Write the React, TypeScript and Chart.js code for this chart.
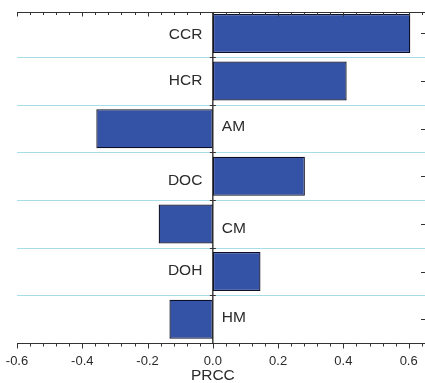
import React, { useEffect, useRef } from "react";
import { Chart, registerables } from "chart.js";

Chart.register(...registerables);

const categories = ["CCR", "HCR", "AM", "DOC", "CM", "DOH", "HM"];
const prccValues = [0.605, 0.41, -0.357, 0.282, -0.166, 0.146, -0.133];
const xTickValues = [-0.6, -0.4, -0.2, 0.0, 0.2, 0.4, 0.6];
const xTickLabels = ["-0.6", "-0.4", "-0.2", "0.0", "0.2", "0.4", "0.6"];
const xMin = -0.6;
const xMax = 0.65;
const minorStep = 0.04;
const axisTitle = "PRCC";

const labelDy = [1.5, 0, -2, 4, 5, -1, -1];

const FONT = "'Liberation Sans', Arial, sans-serif";
const TEXT = "#2b2b2b";
const AXIS = "#333333";
const GRID = "#a6dde6";

const overlayPlugin = {
  id: "overlay",
  beforeDatasetsDraw(chart: any) {
    const { ctx, chartArea } = chart;
    const ys = chart.scales.y;
    ctx.save();
    ctx.strokeStyle = GRID;
    ctx.lineWidth = 1;
    ctx.beginPath();
    for (let i = 1; i < categories.length; i++) {
      const yb = Math.round((ys.getPixelForValue(i - 1) + ys.getPixelForValue(i)) / 2) + 0.5;
      ctx.moveTo(chartArea.left, yb);
      ctx.lineTo(chart.width, yb);
    }
    ctx.stroke();
    ctx.restore();
  },
  afterDatasetsDraw(chart: any) {
    const { ctx, chartArea } = chart;
    const xs = chart.scales.x;
    const ys = chart.scales.y;
    const x0 = xs.getPixelForValue(0);
    const left = chartArea.left;
    const right = chart.width;
    const topY = 12.5;
    const botY = Math.round(chartArea.bottom) + 0.5;
    ctx.save();
    ctx.strokeStyle = AXIS;
    ctx.lineWidth = 1;
    ctx.beginPath();
    ctx.moveTo(left, topY);
    ctx.lineTo(right, topY);
    ctx.moveTo(left, botY);
    ctx.lineTo(right, botY);
    ctx.stroke();
    const nMinor = Math.round((xMax - xMin) / minorStep);
    ctx.beginPath();
    for (let i = 0; i <= nMinor; i++) {
      const v = xMin + i * minorStep;
      const px = Math.round(xs.getPixelForValue(v)) + 0.5;
      const isMajor = xTickValues.some((t) => Math.abs(t - v) < 1e-6);
      const lenTop = isMajor ? 4 : 2.5;
      const lenBot = isMajor ? 5 : 3;
      ctx.moveTo(px, topY);
      ctx.lineTo(px, topY + lenTop);
      ctx.moveTo(px, botY);
      ctx.lineTo(px, botY + lenBot);
    }
    ctx.stroke();
    ctx.strokeStyle = "#222222";
    ctx.lineWidth = 1.3;
    ctx.beginPath();
    ctx.moveTo(x0, topY);
    ctx.lineTo(x0, botY);
    ctx.stroke();
    ctx.lineWidth = 1;
    ctx.strokeStyle = AXIS;
    ctx.beginPath();
    for (let i = 1; i < categories.length; i++) {
      const yb = Math.round((ys.getPixelForValue(i - 1) + ys.getPixelForValue(i)) / 2) + 0.5;
      ctx.moveTo(x0 - 3, yb);
      ctx.lineTo(x0 + 3, yb);
    }
    for (let i = 0; i < categories.length; i++) {
      const yc = Math.round(ys.getPixelForValue(i)) + 0.5;
      ctx.moveTo(right - 4, yc);
      ctx.lineTo(right, yc);
    }
    ctx.stroke();
    ctx.fillStyle = TEXT;
    ctx.font = `13px ${FONT}`;
    ctx.textAlign = "center";
    ctx.textBaseline = "middle";
    xTickValues.forEach((v, i) => {
      ctx.fillText(xTickLabels[i], xs.getPixelForValue(v), botY + 17.5);
    });
    ctx.font = `15.5px ${FONT}`;
    ctx.fillText(axisTitle, x0, 376);
    categories.forEach((c, i) => {
      const yc = ys.getPixelForValue(i) + labelDy[i];
      if (prccValues[i] >= 0) {
        ctx.textAlign = "right";
        ctx.fillText(c, x0 - 10.5, yc);
      } else {
        ctx.textAlign = "left";
        ctx.fillText(c, x0 + 9, yc);
      }
    });
    ctx.restore();
  },
};

export default function App() {
  const ref = useRef<HTMLCanvasElement | null>(null);
  useEffect(() => {
    if (!ref.current) return;
    const chart = new Chart(ref.current, {
      type: "bar",
      data: {
        labels: categories,
        datasets: [
          {
            data: prccValues,
            backgroundColor: "#3553a6",
            borderColor: "#0d0f26",
            borderWidth: 1.3,
            borderSkipped: false,
            categoryPercentage: 1,
            barPercentage: 0.82,
          },
        ],
      },
      options: {
        indexAxis: "y",
        responsive: false,
        animation: false,
        layout: { padding: { left: 17, right: 0, top: 9.6, bottom: 40 } },
        plugins: { legend: { display: false }, tooltip: { enabled: false } },
        scales: {
          x: { type: "linear", min: xMin, max: xMax, display: false },
          y: { type: "category", display: false },
        },
      },
      plugins: [overlayPlugin],
    });
    return () => chart.destroy();
  }, []);
  return (
    <div style={{ position: "fixed", left: 0, top: 0, width: 425, height: 383, background: "#fff" }}>
      <canvas ref={ref} width={425} height={383} style={{ display: "block" }} />
    </div>
  );
}
